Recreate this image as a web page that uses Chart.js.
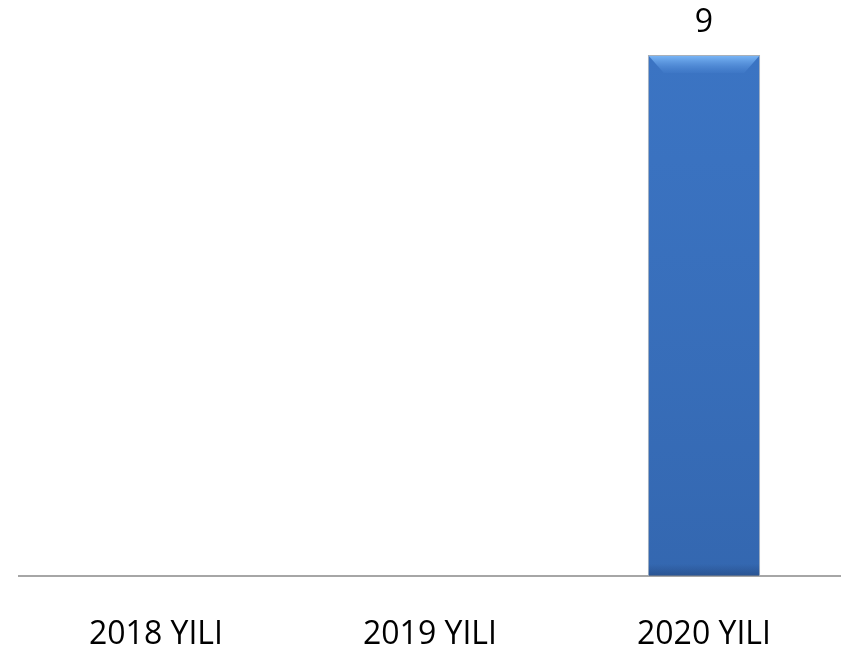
<!DOCTYPE html>
<html>
<head>
<meta charset="utf-8">
<script src="https://cdn.jsdelivr.net/npm/chart.js@4/dist/chart.umd.min.js"></script>
<style>
  html, body { margin: 0; padding: 0; background: #fff; }
  #wrap { width: 841px; height: 656px; position: relative; }
</style>
</head>
<body>
<div id="wrap"><canvas id="chart"></canvas></div>
<script>
const years = ['2018 YILI', '2019 YILI', '2020 YILI'];
const counts = [0, 0, 9];
const yMax = 9;

// shiny bar fill: dark edges, lighter body
function barFill(ctx) {
  const bar = ctx.element;
  const c = ctx.chart.ctx;
  if (!bar || bar.width === undefined || isNaN(bar.x)) return '#3b74c3';
  const l = bar.x - bar.width / 2, r = bar.x + bar.width / 2;
  const g = c.createLinearGradient(l, 0, r, 0);
  g.addColorStop(0, '#1f3f70');
  g.addColorStop(0.05, '#3468b0');
  g.addColorStop(0.12, '#3a74c4');
  g.addColorStop(0.88, '#3a74c4');
  g.addColorStop(0.95, '#3468b0');
  g.addColorStop(1, '#1c3a68');
  return g;
}

// bevel shading + value labels
const valueLabels = {
  id: 'valueLabels',
  afterDatasetsDraw(chart) {
    const c = chart.ctx;
    const meta = chart.getDatasetMeta(0);
    meta.data.forEach((bar, i) => {
      if (!counts[i]) return;
      const l = bar.x - bar.width / 2, r = bar.x + bar.width / 2;
      c.save();
      // body darkens toward the bottom
      const gv = c.createLinearGradient(0, bar.y, 0, bar.base);
      gv.addColorStop(0, 'rgba(40,80,140,0)');
      gv.addColorStop(1, 'rgba(30,65,120,0.25)');
      c.fillStyle = gv;
      c.fillRect(l + 1, bar.y + 1, bar.width - 2, bar.base - bar.y - 1);
      // top highlight trapezoid
      const g = c.createLinearGradient(0, bar.y, 0, bar.y + 18);
      g.addColorStop(0, 'rgba(125,185,248,1)');
      g.addColorStop(1, 'rgba(90,150,225,0.1)');
      c.fillStyle = g;
      c.beginPath();
      c.moveTo(l + 1, bar.y + 1);
      c.lineTo(r - 1, bar.y + 1);
      c.lineTo(r - 16, bar.y + 18);
      c.lineTo(l + 16, bar.y + 18);
      c.closePath();
      c.fill();
      // bottom shade
      const g2 = c.createLinearGradient(0, bar.base - 12, 0, bar.base);
      g2.addColorStop(0, 'rgba(30,60,110,0)');
      g2.addColorStop(1, 'rgba(30,60,110,0.45)');
      c.fillStyle = g2;
      c.fillRect(l + 1, bar.base - 12, bar.width - 2, 12);
      c.fillStyle = '#000';
      c.font = '32px "Open Sans"';
      c.textAlign = 'center';
      c.textBaseline = 'middle';
      c.fillText(String(counts[i]), bar.x, bar.y - 32);
      c.restore();
    });
  }
};

new Chart(document.getElementById('chart'), {
  type: 'bar',
  data: {
    labels: years,
    datasets: [{
      data: counts,
      backgroundColor: barFill,
      borderColor: '#a9b0b8',
      borderWidth: 1,
      borderSkipped: false,
      categoryPercentage: 1,
      barPercentage: 0.41
    }]
  },
  options: {
    responsive: true,
    maintainAspectRatio: false,
    animation: false,
    layout: { padding: { top: 55, left: 19, right: 0, bottom: 0 } },
    plugins: {
      legend: { display: false },
      tooltip: { enabled: false }
    },
    scales: {
      x: {
        grid: { display: false, drawTicks: false },
        border: { display: true, color: '#a6a6a6', width: 2 },
        ticks: {
          color: '#000',
          padding: 40,
          font: { family: '"Open Sans"', size: 32 }
        },
        afterFit(scale) { scale.height = 80; }
      },
      y: {
        display: false,
        min: 0,
        max: yMax
      }
    }
  },
  plugins: [valueLabels]
});
</script>
</body>
</html>
